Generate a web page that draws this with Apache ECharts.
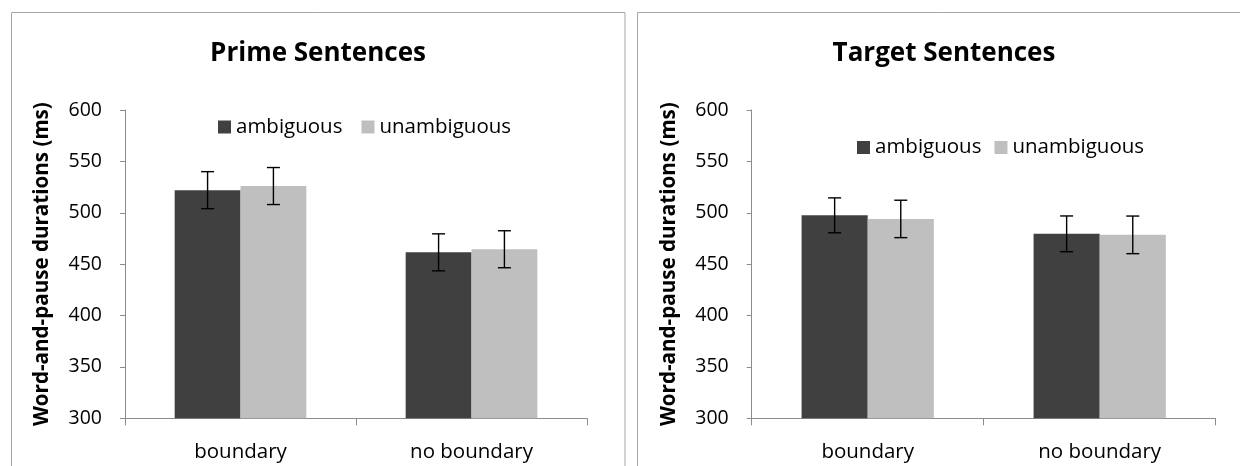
<!DOCTYPE html>
<html>
<head>
<meta charset="utf-8">
<script src="https://cdn.jsdelivr.net/npm/echarts@6/dist/echarts.min.js"></script>
<style>
html,body{margin:0;padding:0;background:#fff;}
#c{width:1240px;height:466px;}
</style>
</head>
<body>
<div id="c"></div>
<script>
const categories = ['boundary', 'no boundary'];
const seriesNames = ['ambiguous', 'unambiguous'];
const yTicks = [300, 350, 400, 450, 500, 550, 600];

const primeAmbiguous = [522, 461.5];
const primeUnambiguous = [526, 464.5];
const primeAmbiguousErr = [18, 18];
const primeUnambiguousErr = [18, 18];

const targetAmbiguous = [497.5, 479.5];
const targetUnambiguous = [494, 478.5];
const targetAmbiguousErr = [17, 17.4];
const targetUnambiguousErr = [18.2, 18.3];

const FONT = 'Open Sans';
const DARK = '#404040';
const LIGHT = '#bfbfbf';
const AXIS = '#8c8c8c';

const chart = echarts.init(document.getElementById('c'), null, {renderer: 'canvas'});

function xAxisCfg(gi) {
  return {
    type: 'category', gridIndex: gi, data: categories,
    axisLine: {lineStyle: {color: AXIS, width: 1}},
    axisTick: {show: true, length: 7, lineStyle: {color: AXIS}},
    axisLabel: {color: '#000', fontFamily: FONT, fontSize: 20.5, margin: 23}
  };
}
function yAxisCfg(gi) {
  return {
    type: 'value', gridIndex: gi, min: 300, max: 600, interval: 50,
    name: 'Word-and-pause durations (ms)', nameLocation: 'middle', nameGap: 72,
    nameTextStyle: {color: '#000', fontFamily: FONT, fontSize: 20.6, fontWeight: 'bold'},
    axisLine: {show: true, lineStyle: {color: AXIS, width: 1}},
    axisTick: {show: true, length: 5, lineStyle: {color: AXIS}},
    splitLine: {show: false},
    axisLabel: {color: '#000', fontFamily: FONT, fontSize: 19.5, margin: 23,
      formatter: v => yTicks.indexOf(v) >= 0 ? String(v) : ''}
  };
}
function barSeries(name, data, color, gi) {
  return {
    type: 'bar', name: name, data: data, xAxisIndex: gi, yAxisIndex: gi,
    barGap: '0%', barCategoryGap: '43%',
    itemStyle: {color: color}, emphasis: {disabled: true}, silent: true
  };
}
function errSeries(vals, errs, side, gi) {
  return {
    type: 'custom', xAxisIndex: gi, yAxisIndex: gi, silent: true, z: 5,
    data: vals.map((v, i) => [i, v, errs[i]]),
    renderItem: function (params, api) {
      const idx = api.value(0), v = api.value(1), e = api.value(2);
      const bw = api.size([1, 0])[0];
      const cx = api.coord([idx, v])[0] + side * bw * 0.1425;
      const yt = api.coord([idx, v + e])[1];
      const yb = api.coord([idx, v - e])[1];
      const cap = 6.5;
      const st = {stroke: '#000', lineWidth: 1.4};
      return {type: 'group', children: [
        {type: 'line', shape: {x1: cx, y1: yt, x2: cx, y2: yb}, style: st},
        {type: 'line', shape: {x1: cx - cap, y1: yt, x2: cx + cap, y2: yt}, style: st},
        {type: 'line', shape: {x1: cx - cap, y1: yb, x2: cx + cap, y2: yb}, style: st}
      ]};
    }
  };
}

const legendText = {fontFamily: FONT, fontSize: 20.5, lineHeight: 21, color: '#000', padding: [0, 0, 0, 0]};

chart.setOption({
  animation: false,
  backgroundColor: '#fff',
  graphic: [
    {type: 'rect', shape: {x: 11.5, y: 12.5, width: 613.5, height: 520}, style: {fill: 'none', stroke: '#a6a6a6', lineWidth: 1}},
    {type: 'rect', shape: {x: 637.5, y: 12.5, width: 700, height: 520}, style: {fill: 'none', stroke: '#a6a6a6', lineWidth: 1}}
  ],
  title: [
    {text: 'Prime Sentences', left: 313, top: 36, textAlign: 'center',
      textStyle: {fontFamily: FONT, fontSize: 26, fontWeight: 'bold', color: '#000'}},
    {text: 'Target Sentences', left: 939, top: 36, textAlign: 'center',
      textStyle: {fontFamily: FONT, fontSize: 26, fontWeight: 'bold', color: '#000'}}
  ],
  legend: [
    {data: seriesNames, left: 218, top: 116.5, padding: 0, icon: 'rect', itemWidth: 13, itemHeight: 13, itemGap: 19,
      textStyle: legendText, selectedMode: false},
    {data: seriesNames, left: 857, top: 137, padding: 0, icon: 'rect', itemWidth: 13, itemHeight: 13, itemGap: 13,
      textStyle: legendText, selectedMode: false}
  ],
  grid: [
    {left: 125, top: 110, width: 462, height: 308.3},
    {left: 751.7, top: 110, width: 464, height: 308.3}
  ],
  xAxis: [xAxisCfg(0), xAxisCfg(1)],
  yAxis: [yAxisCfg(0), yAxisCfg(1)],
  series: [
    barSeries(seriesNames[0], primeAmbiguous, DARK, 0),
    barSeries(seriesNames[1], primeUnambiguous, LIGHT, 0),
    barSeries(seriesNames[0], targetAmbiguous, DARK, 1),
    barSeries(seriesNames[1], targetUnambiguous, LIGHT, 1),
    errSeries(primeAmbiguous, primeAmbiguousErr, -1, 0),
    errSeries(primeUnambiguous, primeUnambiguousErr, 1, 0),
    errSeries(targetAmbiguous, targetAmbiguousErr, -1, 1),
    errSeries(targetUnambiguous, targetUnambiguousErr, 1, 1)
  ]
});
</script>
</body>
</html>
